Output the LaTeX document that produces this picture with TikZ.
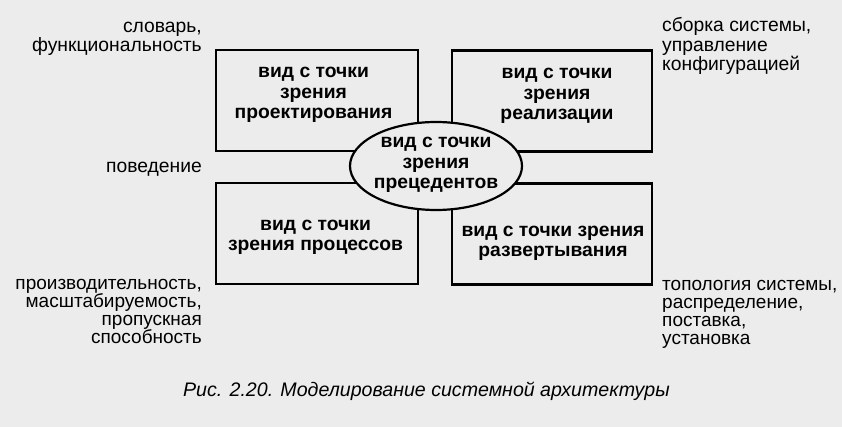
\documentclass[tikz,border=0pt]{standalone}
\usepackage{fontspec}
\setmainfont{Liberation Sans}
\usetikzlibrary{shapes.geometric}
\definecolor{paper}{RGB}{236,236,236}
\tikzset{
  viewbox/.style={draw=black, line width=2.2pt, rectangle, minimum width=#1, minimum height=101pt, inner sep=0pt},
  viewtext/.style={align=center, anchor=base, inner sep=0pt, font=\fontsize{19.3}{20.7}\selectfont\bfseries},
  note/.style={font=\fontsize{19.3}{19.3}\selectfont, inner sep=0pt},
  tightnote/.style={note, font=\fontsize{19}{18}\selectfont},
}
\begin{document}
\begin{tikzpicture}[x=1pt,y=-1pt]
\useasboundingbox[fill=paper] (0,0) rectangle (842,427);
\node[viewbox=202pt] (tl) at (317,100.5) {};
\node[viewbox=200pt] (tr) at (552,101) {};
\node[viewbox=202pt] (bl) at (317,233.5) {};
\node[viewbox=200pt] (br) at (552,234) {};
\node[viewtext] (tlt) at (313.5,119) {вид с точки\\зрения\\проектирования};
\node[viewtext] (trt) at (557,120) {вид с точки\\зрения\\реализации};
\node[viewtext] (blt) at (315.5,251) {вид с точки\\зрения процессов};
\node[viewtext] (brt) at (553,257) {вид с точки зрения\\развертывания};
\node[ellipse, draw=black, line width=2.2pt, fill=paper, minimum width=172pt, minimum height=88pt, inner sep=0pt] (uc) at (436,166) {};
\node[viewtext] (uct) at (436,189) {вид с точки\\зрения\\прецедентов};
\node[note, align=right, anchor=base east] (n1) at (202,52) {словарь,\\функциональность};
\node[note, align=right, anchor=base east] (n2) at (202,173) {поведение};
\node[tightnote, align=right, anchor=base east] (n3) at (202,343) {производительность,\\масштабируемость,\\пропускная\\способность};
\node[note, align=left, anchor=base west] (n4) at (662,70.5) {сборка системы,\\управление\\конфигурацией};
\node[tightnote, align=left, anchor=base west] (n5) at (662,344) {топология системы,\\распределение,\\поставка,\\установка};
\node[font=\fontsize{19.6}{22}\selectfont\itshape, inner sep=0pt, anchor=base] (cap) at (426.5,396) {Рис. 2.20. Моделирование системной архитектуры};
\end{tikzpicture}
\end{document}
